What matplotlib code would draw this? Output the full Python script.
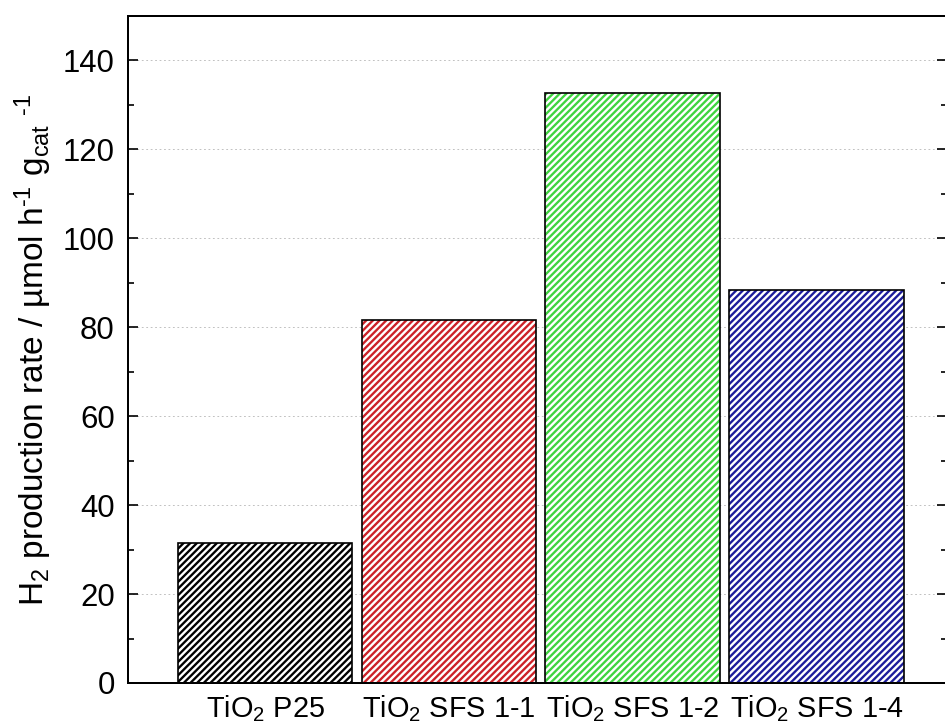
import matplotlib.pyplot as plt
import numpy as np

plt.rcParams["font.family"] = ["Liberation Sans", "DejaVu Sans"]
plt.rcParams["mathtext.fontset"] = "custom"
plt.rcParams["mathtext.rm"] = "Liberation Sans"
plt.rcParams["mathtext.it"] = "Liberation Sans"
plt.rcParams["mathtext.default"] = "regular"
plt.rcParams["hatch.linewidth"] = 2.1

# data
samples = ["TiO$_2$ P25", "TiO$_2$ SFS 1-1", "TiO$_2$ SFS 1-2", "TiO$_2$ SFS 1-4"]
rates = [31.5, 81.6, 132.6, 88.3]
hatch_colors = ["#000000", "#cc2228", "#3fd43f", "#1c1c9a"]

x = np.arange(1, len(samples) + 1)

fig = plt.figure(figsize=(945 / 80, 724 / 80), dpi=80)
ax = fig.add_axes([128 / 945, 41 / 724, 819 / 945, 667 / 724])

# hatched fill in its own colour, then black outline on top
ax.bar(x, rates, width=0.95, color="white", edgecolor=hatch_colors,
       hatch="////", linewidth=0, zorder=2)
ax.bar(x, rates, width=0.95, fill=False, edgecolor="black",
       linewidth=1.5, zorder=3)

ax.set_xlim(0.254, 4.71)
ax.set_ylim(0, 150)
ax.set_xticks(x)
ax.set_xticklabels(samples)
ax.set_yticks(np.arange(0, 141, 20))
ax.set_yticks(np.arange(10, 150, 20), minor=True)

ax.grid(axis="y", which="major", linestyle=(0, (2, 3)), color="#bbbbbb",
        linewidth=0.8, zorder=0)

ax.tick_params(axis="y", which="both", direction="in", right=True,
               labelsize=28, width=1.5, pad=12)
ax.tick_params(axis="y", which="major", length=9)
ax.tick_params(axis="y", which="minor", length=5)
ax.tick_params(axis="x", length=0, labelsize=26, pad=9)

for s in ax.spines.values():
    s.set_linewidth(1.8)

ax.set_ylabel(r"H$_2$ production rate / µmol h$^{\text{-}1}$ g$_{cat}$ $^{\text{-}1}$",
              fontsize=30, labelpad=8)

fig.savefig("out.png", dpi=80)
